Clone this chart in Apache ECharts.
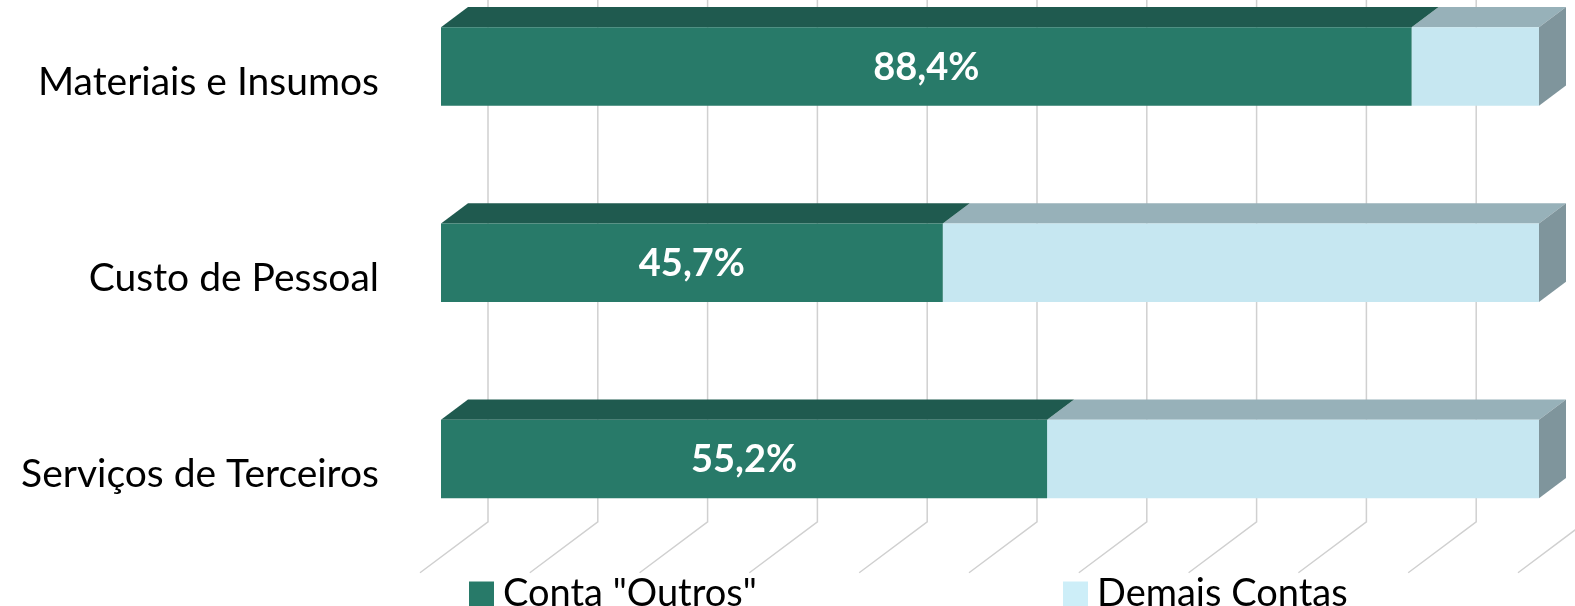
<!DOCTYPE html>
<html>
<head>
<meta charset="utf-8">
<script src="https://cdn.jsdelivr.net/npm/echarts@6/dist/echarts.min.js"></script>
<style>
html,body{margin:0;padding:0;background:#fff}
#chart{width:1575px;height:606px}
</style>
</head>
<body>
<div id="chart"></div>
<script>
var categorias = ['Materiais e Insumos', 'Custo de Pessoal', 'Serviços de Terceiros'];
var contaOutros = [88.4, 45.7, 55.2];
var demaisContas = [11.6, 54.3, 44.8];
var ticks = [0, 10, 20, 30, 40, 50, 60, 70, 80, 90, 100];

// profundidade do efeito 3D (em px, no eixo x), inclinacao dy/dx
var GAP_FRENTE = 21, PROF_BARRA = 27, GAP_FUNDO = 20, INCL = 0.75;
var FONTE = 'Lato';

function fmt(v) {
  return v.toFixed(1).replace('.', ',') + '%';
}

function renderBarra(cores, comLado, comRotulo) {
  return function (params, api) {
    var cat = api.value(0), ini = api.value(1), fim = api.value(2);
    var p0 = api.coord([ini, cat]);
    var p1 = api.coord([fim, cat]);
    var h = api.size([0, 1])[1] * 0.4;
    var x0 = p0[0], x1 = p1[0];
    var yT = p0[1] - h / 2, yB = p0[1] + h / 2;
    var dx = PROF_BARRA, dy = PROF_BARRA * INCL;
    var filhos = [
      {type: 'polygon', shape: {points: [[x0, yT], [x1, yT], [x1 + dx, yT - dy], [x0 + dx, yT - dy]]}, style: {fill: cores.topo}},
      {type: 'rect', shape: {x: x0, y: yT, width: x1 - x0, height: yB - yT}, style: {fill: cores.frente}}
    ];
    if (comLado) {
      filhos.push({type: 'polygon', shape: {points: [[x1, yT], [x1 + dx, yT - dy], [x1 + dx, yB - dy], [x1, yB]]}, style: {fill: cores.lado}});
    }
    if (comRotulo) {
      filhos.push({type: 'text', style: {
        text: fmt(fim - ini), x: (x0 + x1) / 2, y: p0[1] + 1,
        align: 'center', verticalAlign: 'middle',
        fill: '#ffffff', font: 'bold 38px ' + FONTE
      }});
    }
    return {type: 'group', children: filhos};
  };
}

function renderParede(params, api) {
  var cs = params.coordSys;
  var p = api.coord([api.value(0), 0]);
  var fundo = PROF_BARRA + GAP_FUNDO;
  var xb = p[0] + fundo, dyb = fundo * INCL;
  var yTop = cs.y, yBot = cs.y + cs.height;
  return {
    type: 'polyline',
    shape: {points: [[xb, yTop - dyb], [xb, yBot - dyb], [p[0] - GAP_FRENTE, yBot + GAP_FRENTE * INCL]]},
    style: {stroke: '#d0d0d0', lineWidth: 1.5, fill: null}
  };
}

var dadosOutros = categorias.map(function (c, i) { return [i, 0, contaOutros[i]]; });
var dadosDemais = categorias.map(function (c, i) { return [i, contaOutros[i], contaOutros[i] + demaisContas[i]]; });

var chart = echarts.init(document.getElementById('chart'));
var option = {
  animation: false,
  legend: [
    {data: ['Conta "Outros"'], left: 464, top: 570, icon: 'rect', itemWidth: 25, itemHeight: 25, itemGap: 10,
      textStyle: {fontFamily: FONTE, fontSize: 38, color: '#000', padding: [0, 0, 0, 4]}},
    {data: ['Demais Contas'], left: 1058, top: 570, icon: 'rect', itemWidth: 25, itemHeight: 25, itemGap: 10,
      textStyle: {fontFamily: FONTE, fontSize: 38, color: '#000', padding: [0, 0, 0, 4]}}
  ],
  grid: {left: 441, right: 36, top: -31.5, height: 588.5, outerBoundsMode: 'none', containLabel: false},
  xAxis: {type: 'value', min: 0, max: 100, show: false},
  yAxis: {
    type: 'category', data: categorias, inverse: true,
    axisLine: {show: false}, axisTick: {show: false}, splitLine: {show: false},
    // rotulos no plano da frente do piso (desce ~16px)
    axisLabel: {fontFamily: FONTE, fontSize: 39, color: '#000', margin: 62, verticalAlign: 'top', lineHeight: 32}
  },
  series: [
    {type: 'custom', name: 'parede', silent: true, z: 1, renderItem: renderParede,
      data: ticks.map(function (t) { return [t, 0]; }), encode: {x: 0, y: 1}},
    {type: 'custom', name: 'Conta "Outros"', z: 3, itemStyle: {color: '#287a69'},
      renderItem: renderBarra({frente: '#287a69', topo: '#1f5a4f'}, false, true),
      data: dadosOutros, encode: {x: [1, 2], y: 0}},
    {type: 'custom', name: 'Demais Contas', z: 2, itemStyle: {color: '#cdeef8'},
      renderItem: renderBarra({frente: '#c6e7f1', topo: '#97b1b9', lado: '#7f959c'}, true, false),
      data: dadosDemais, encode: {x: [1, 2], y: 0}}
  ]
};
chart.setOption(option);
window.addEventListener('resize', function () { chart.resize(); });
</script>
</body>
</html>
